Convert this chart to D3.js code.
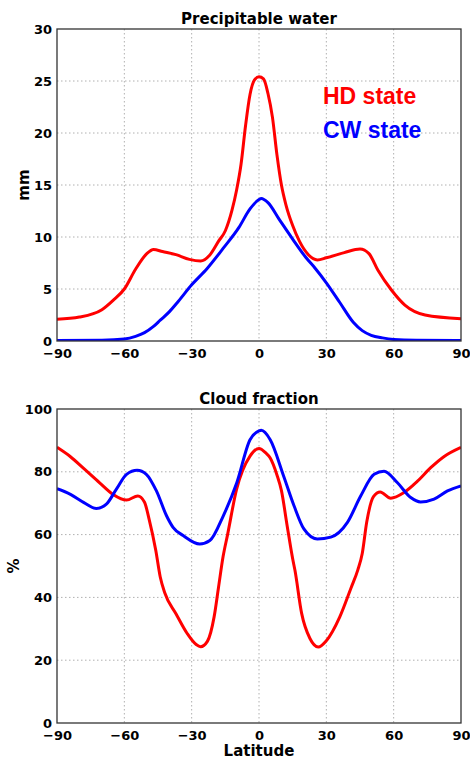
<!DOCTYPE html>
<html>
<head>
<meta charset="utf-8">
<script src="https://cdn.jsdelivr.net/npm/d3@7"></script>
<style>
  body { margin: 0; background: #fff; }
  svg { display: block; }
  .tick text { font-family: "DejaVu Sans", sans-serif; font-weight: bold; font-size: 13px; fill: #000; }
  .grid line { stroke: #b0b0b0; stroke-dasharray: 1.5,2.5; stroke-width: 1; }
</style>
</head>
<body>
<svg width="470" height="760"></svg>
<script>
// --- precipitable water (mm) ---
var pwLatHD = [-90,-80,-70,-65,-60,-55,-50,-47,-43,-37,-31,-26,-22,-18,-15,-12,-10,-8,-6,-4,-2,0,2,4,6,8,10,12,15,18,22,26,30,38,45,49,53,59,65,74,90];
var pwHD    = [2.1,2.3,3.0,3.9,5.0,6.9,8.4,8.8,8.6,8.3,7.85,7.7,8.25,9.6,10.6,12.6,14.5,17.0,20.7,23.7,25.1,25.4,25.2,23.8,21.5,17.9,15.0,13.1,11.1,9.6,8.3,7.8,8.0,8.5,8.85,8.4,6.8,4.9,3.45,2.5,2.15];
var pwLatCW = [-90,-70,-60,-55,-51,-47,-44,-40,-36,-30,-23,-16,-9,-4,0,1,4,9,15,21,25,30,36,42,46,50,55,60,70,90];
var pwCW    = [0.05,0.08,0.2,0.45,0.8,1.4,2.0,2.8,3.8,5.4,7.0,8.9,10.9,12.7,13.6,13.7,13.3,11.7,9.8,8.0,7.0,5.6,3.7,1.8,1.0,0.55,0.3,0.15,0.07,0.05];

// --- cloud fraction (%) ---
var cfLatHD = [-90,-84,-78,-71,-65,-59,-54,-51,-49,-46,-44,-42,-37,-32,-28,-26,-23,-20,-18,-16,-14,-10,-4,0,3,5,8,10,12.5,15,16,19,22.7,26.4,30,36,41,44,46,48,51,54,58.7,64.6,70.6,76.5,82.5,90];
var cfHD    = [87.8,84.8,81,76.5,72.8,71,72.3,70.3,65,55,46.5,41.5,34.8,28.5,25,24.3,26,33.8,43.4,53,60,74.4,85,87.4,86,84.4,79,74,63,52.3,48.7,34.9,26.9,24.2,26.2,33.8,43,48.7,54,64,72.1,73.6,71.6,73.4,77,81.3,84.9,87.8];
var cfLatCW = [-90,-84,-78,-72.5,-68,-63.6,-59,-54.3,-50.2,-45.7,-41.2,-38.3,-33.8,-26.4,-21.9,-15.9,-9.9,-4,0,1,5,11,15.6,20,26,32,39.4,45.3,51.3,55.7,61.7,67.6,72,78,84,90];
var cfCW    = [74.6,72.8,70.2,68.3,69.7,74.4,79.2,80.5,79.2,73.9,66,62.3,59.7,57,58.1,66,76.5,90.2,93,93.2,90.2,78.6,69.2,61.8,58.6,59.2,63.9,72.3,79.2,80.2,76.5,71.8,70.4,71.3,73.9,75.5];

var latTicks = [-90,-60,-30,0,30,60,90];
var pwTicks = [0,5,10,15,20,25,30];
var cfTicks = [0,20,40,60,80,100];

var svg = d3.select("svg");
var left = 57, right = 461;

function zip(lats, vals) {
  return lats.map(function(d, i) { return {lat: d, v: vals[i]}; });
}

function panel(opts) {
  var x = d3.scaleLinear().domain([-90, 90]).range([left, right]);
  var y = d3.scaleLinear().domain(opts.yDomain).range([opts.bottom, opts.top]);
  var g = svg.append("g");

  // grid
  g.append("g").attr("class", "grid")
    .selectAll("line.v").data(latTicks.slice(1, -1)).enter().append("line")
      .attr("x1", function(d) { return x(d); }).attr("x2", function(d) { return x(d); })
      .attr("y1", opts.top).attr("y2", opts.bottom);
  g.append("g").attr("class", "grid")
    .selectAll("line.h").data(opts.yTicks.slice(1, -1)).enter().append("line")
      .attr("x1", left).attr("x2", right)
      .attr("y1", function(d) { return y(d); }).attr("y2", function(d) { return y(d); });

  // axes
  g.append("g")
    .attr("transform", "translate(0," + opts.bottom + ")")
    .call(d3.axisBottom(x).tickValues(latTicks).tickSize(0).tickPadding(8))
    .call(function(a) { a.select(".domain").remove(); });
  g.append("g")
    .attr("transform", "translate(" + left + ",0)")
    .call(d3.axisLeft(y).tickValues(opts.yTicks).tickSize(0).tickPadding(5))
    .call(function(a) { a.select(".domain").remove(); });

  var clipId = "clip" + opts.top;
  svg.append("clipPath").attr("id", clipId).append("rect")
    .attr("x", left).attr("y", opts.top).attr("width", right - left).attr("height", opts.bottom - opts.top);

  var line = d3.line()
    .curve(d3.curveMonotoneX)
    .x(function(d) { return x(d.lat); })
    .y(function(d) { return y(d.v); });

  opts.series.forEach(function(s) {
    g.append("path")
      .attr("clip-path", "url(#" + clipId + ")")
      .attr("d", line(s.data))
      .attr("fill", "none")
      .attr("stroke", s.color)
      .attr("stroke-width", 3)
      .attr("stroke-linejoin", "round");
  });

  // frame
  g.append("rect")
    .attr("x", left).attr("y", opts.top)
    .attr("width", right - left).attr("height", opts.bottom - opts.top)
    .attr("fill", "none").attr("stroke", "#333").attr("stroke-width", 1.3);

  g.append("text")
    .attr("x", (left + right) / 2).attr("y", opts.top - 5)
    .attr("text-anchor", "middle")
    .style("font", "bold 15px 'DejaVu Sans', sans-serif")
    .text(opts.title);

  g.append("text")
    .attr("transform", "translate(" + opts.ylabX + "," + ((opts.top + opts.bottom) / 2) + ") rotate(-90)")
    .attr("text-anchor", "middle")
    .style("font", "bold 15px 'DejaVu Sans', sans-serif")
    .text(opts.ylabel);

  return {x: x, y: y, g: g};
}

var p1 = panel({
  top: 29, bottom: 341, yDomain: [0, 30], yTicks: pwTicks,
  title: "Precipitable water", ylabel: "mm", ylabX: 29,
  series: [
    {data: zip(pwLatHD, pwHD), color: "#ff0000"},
    {data: zip(pwLatCW, pwCW), color: "#0000ff"}
  ]
});

var p2 = panel({
  top: 409, bottom: 723, yDomain: [0, 100], yTicks: cfTicks,
  title: "Cloud fraction", ylabel: "%", ylabX: 19,
  series: [
    {data: zip(cfLatHD, cfHD), color: "#ff0000"},
    {data: zip(cfLatCW, cfCW), color: "#0000ff"}
  ]
});

// legend text
p1.g.append("text").attr("x", 323).attr("y", 104)
  .style("font", "bold 23px 'Liberation Sans', Arial, sans-serif")
  .attr("fill", "#ff0000").text("HD state");
p1.g.append("text").attr("x", 323).attr("y", 138)
  .style("font", "bold 23px 'Liberation Sans', Arial, sans-serif")
  .attr("fill", "#0000ff").text("CW state");

svg.append("text")
  .attr("x", (left + right) / 2).attr("y", 756)
  .attr("text-anchor", "middle")
  .style("font", "bold 15px 'DejaVu Sans', sans-serif")
  .text("Latitude");
</script>
</body>
</html>
